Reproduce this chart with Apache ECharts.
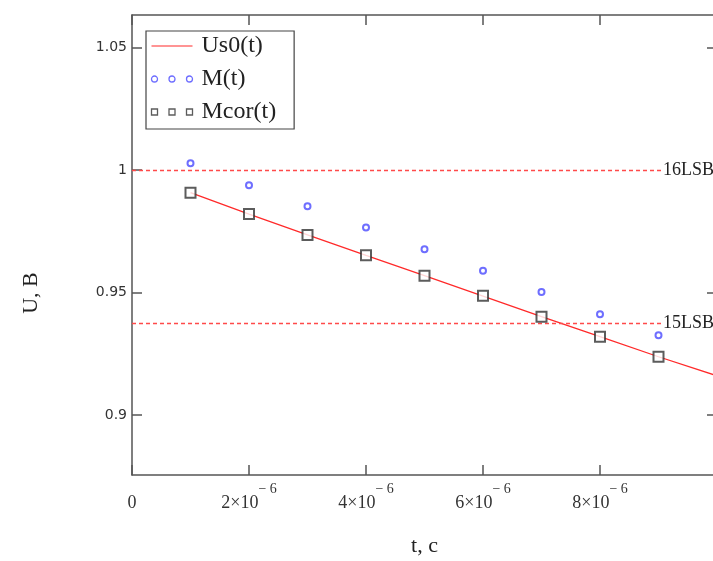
<!DOCTYPE html>
<html>
<head>
<meta charset="utf-8">
<script src="https://cdn.jsdelivr.net/npm/echarts@6/dist/echarts.min.js"></script>
<style>
html,body{margin:0;padding:0;background:#fff;}
#chart{width:713px;height:561px;}
</style>
</head>
<body>
<div id="chart"></div>
<script>
// ---- data ----
const sampleTimes = [1e-6, 2e-6, 3e-6, 4e-6, 5e-6, 6e-6, 7e-6, 8e-6, 9e-6];
const mValues     = [1.0028, 0.9939, 0.9853, 0.9766, 0.9677, 0.9589, 0.9503, 0.9412, 0.9326];
const mcorValues  = [0.9908, 0.9821, 0.9735, 0.9653, 0.9569, 0.9487, 0.9401, 0.9320, 0.9238];
const us0Times    = [1e-6, 2e-6, 3e-6, 4e-6, 5e-6, 6e-6, 7e-6, 8e-6, 9e-6, 1e-5];
const us0Values   = [0.9908, 0.9821, 0.9736, 0.9652, 0.9569, 0.9486, 0.9402, 0.9320, 0.9238, 0.9160];
const lsbLevels   = [1.0, 0.9375];
const lsbNames    = ['16LSB', '15LSB'];
const yTickValues = [0.9, 0.95, 1, 1.05];
const xTickValues = [0, 2e-6, 4e-6, 6e-6, 8e-6];
const seriesNames = ['Us0(t)', 'M(t)', 'Mcor(t)'];
const xAxisName = 't, c';
const yAxisName = 'U, B';

const pairs = (xs, ys) => xs.map((x, i) => [x, ys[i]]);

const serif = 'Liberation Serif';
const axisColor = '#555';

function xLabel(v) {
  const m = Math.round(v / 1e-6);
  if (m === 0) return '{b|0}';
  return '{b|' + m + '×10}{s|− 6}';
}

const chart = echarts.init(document.getElementById('chart'), null, {renderer: 'canvas'});

const baseX = {
  type: 'value', min: 0, max: 1e-5, interval: 2e-6,
  splitLine: {show: false},
  axisLine: {show: true, onZero: false, lineStyle: {color: axisColor, width: 1.5}},
  axisTick: {show: true, inside: true, length: 10, lineStyle: {color: axisColor, width: 1.5}}
};
const baseY = {
  type: 'value', min: 0.8755, max: 1.0634,
  splitLine: {show: false},
  axisLine: {show: true, onZero: false, lineStyle: {color: axisColor, width: 1.5}},
  axisTick: {show: true, inside: true, length: 10, customValues: yTickValues, lineStyle: {color: axisColor, width: 1.5}}
};

const option = {
  backgroundColor: '#fff',
  animation: false,
  grid: {left: 132, right: -4, top: 15, bottom: 86, outerBoundsMode: 'none', containLabel: false},
  legend: {
    orient: 'vertical', left: 146, top: 31,
    backgroundColor: '#fff',
    borderColor: '#444', borderWidth: 1.2,
    padding: [2, 18, 4, 3],
    itemGap: 7, itemWidth: 41, itemHeight: 10,
    textStyle: {fontFamily: serif, fontSize: 24, color: '#222', lineHeight: 26, padding: [0, 0, 0, 4]},
    data: [
      {name: seriesNames[0],
       icon: 'path://M0,0M0,4.4H41V5.6H0ZM41,10',
       itemStyle: {color: '#ff2a2a', borderWidth: 0}},
      {name: seriesNames[1],
       icon: 'path://M0,0M0,5a3,3 0 1,0 6,0a3,3 0 1,0 -6,0M17.5,5a3,3 0 1,0 6,0a3,3 0 1,0 -6,0M35,5a3,3 0 1,0 6,0a3,3 0 1,0 -6,0M41,10',
       itemStyle: {color: 'none', borderColor: '#4a4aff', borderWidth: 1.3}},
      {name: seriesNames[2],
       icon: 'path://M0,0M0,2h6v6h-6ZM17.5,2h6v6h-6ZM35,2h6v6h-6ZM41,10',
       itemStyle: {color: 'none', borderColor: '#333', borderWidth: 1.3}}
    ]
  },
  xAxis: [
    Object.assign({}, baseX, {
      position: 'bottom',
      name: xAxisName, nameLocation: 'middle', nameGap: 60,
      nameTextStyle: {fontFamily: serif, fontSize: 22, color: '#222'},
      axisLabel: {
        show: true, margin: 7, customValues: xTickValues,
        formatter: xLabel,
        rich: {
          b: {fontFamily: serif, fontSize: 18, color: '#333', lineHeight: 30, verticalAlign: 'bottom'},
          s: {fontFamily: serif, fontSize: 14, color: '#333', lineHeight: 14, verticalAlign: 'top'}
        }
      }
    }),
    Object.assign({}, baseX, {position: 'top', axisLabel: {show: false}})
  ],
  yAxis: [
    Object.assign({}, baseY, {
      position: 'left',
      name: yAxisName, nameLocation: 'middle', nameGap: 90,
      nameTextStyle: {fontFamily: serif, fontSize: 22, color: '#222', padding: [0, 96, 0, 0]},
      axisLabel: {show: true, margin: 5, customValues: yTickValues,
        fontFamily: 'DejaVu Sans', fontSize: 14, color: '#333'}
    }),
    Object.assign({}, baseY, {position: 'right', axisLabel: {show: false}})
  ],
  series: [
    {
      name: seriesNames[0], type: 'line', xAxisIndex: 0, yAxisIndex: 0,
      data: pairs(us0Times, us0Values),
      symbol: 'none', showSymbol: false,
      lineStyle: {color: '#ff2a2a', width: 1.3},
      itemStyle: {color: '#ff2a2a'},
      z: 3,
      markLine: {
        silent: true, symbol: 'none', precision: 6,
        lineStyle: {color: '#ff4a4a', width: 1.3, type: [4, 3]},
        label: {
          show: true, position: 'end', distance: -54,
          formatter: '{b}', fontFamily: serif, fontSize: 18, color: '#222',
          backgroundColor: '#fff', padding: [0, 0, 0, 0]
        },
        data: lsbLevels.map((v, i) => ({yAxis: v, name: lsbNames[i]}))
      }
    },
    {
      name: seriesNames[1], type: 'scatter', xAxisIndex: 0, yAxisIndex: 0,
      data: pairs(sampleTimes, mValues),
      symbol: 'emptyCircle', symbolSize: 6,
      itemStyle: {color: '#4a4aff', borderWidth: 1.4},
      z: 4
    },
    {
      name: seriesNames[2], type: 'scatter', xAxisIndex: 0, yAxisIndex: 0,
      data: pairs(sampleTimes, mcorValues),
      symbol: 'emptyRect', symbolSize: 10,
      itemStyle: {color: '#333', borderWidth: 1.5},
      z: 5
    }
  ]
};
chart.setOption(option);
</script>
</body>
</html>
